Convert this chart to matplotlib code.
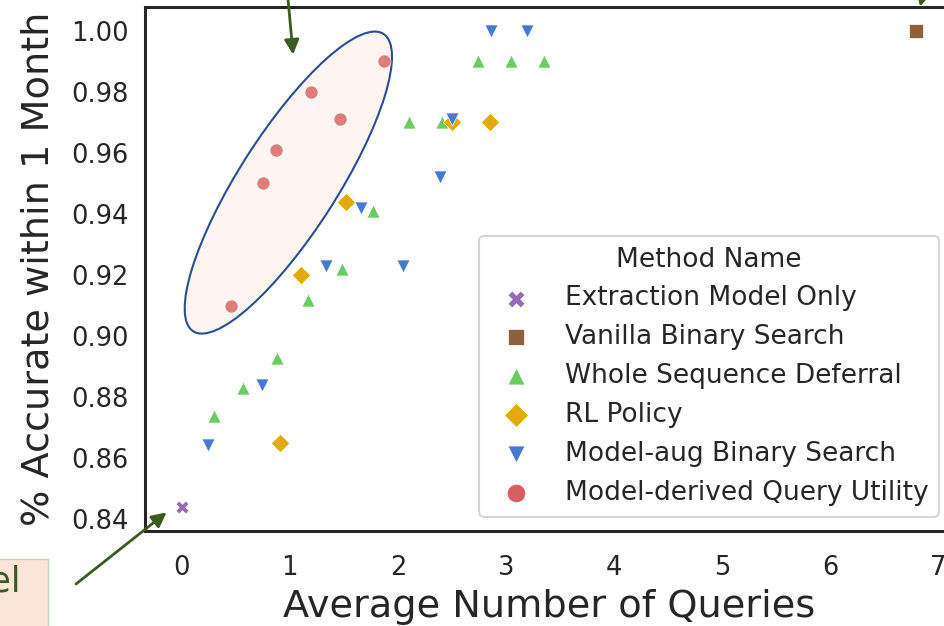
import matplotlib
matplotlib.use('Agg')
import matplotlib.pyplot as plt
from matplotlib.patches import Ellipse, Rectangle
from matplotlib.transforms import ScaledTranslation

plt.rcParams['font.family'] = ['DejaVu Sans']
plt.rcParams['text.color'] = '#262626'
plt.rcParams['axes.labelcolor'] = '#262626'
plt.rcParams['xtick.color'] = '#262626'
plt.rcParams['ytick.color'] = '#262626'

# values
extract_x = [0.0]
extract_y = [0.844]

vanilla_x = [6.79]
vanilla_y = [1.00]

wsd_x = [0.30, 0.57, 0.88, 1.17, 1.48, 1.77, 2.10, 2.41, 2.74, 3.05, 3.35]
wsd_y = [0.874, 0.883, 0.893, 0.912, 0.922, 0.941, 0.970, 0.970, 0.990, 0.990, 0.990]

rl_x = [0.91, 1.10, 1.52, 2.50, 2.85]
rl_y = [0.865, 0.920, 0.944, 0.970, 0.970]

mabs_x = [0.24, 0.74, 1.33, 1.66, 2.05, 2.39, 2.50, 2.86, 3.19]
mabs_y = [0.8645, 0.884, 0.923, 0.942, 0.923, 0.952, 0.971, 1.00, 1.00]

mdqu_x = [0.46, 0.755, 0.875, 1.20, 1.46, 1.875]
mdqu_y = [0.910, 0.950, 0.961, 0.980, 0.971, 0.990]

xticks = [0, 1, 2, 3, 4, 5, 6, 7]
yticks = [0.84, 0.86, 0.88, 0.90, 0.92, 0.94, 0.96, 0.98, 1.00]

W, H = 945, 626
fig = plt.figure(figsize=(W / 100, H / 100), dpi=100)
ax = fig.add_axes([145 / W, 95 / H, (952.5 - 145) / W, 524 / H])

s = 88
ax.scatter(extract_x, extract_y, marker='X', s=s, c='#956cb4', edgecolors='white', linewidths=0.5,
           label='Extraction Model Only', zorder=3)
ax.scatter(vanilla_x, vanilla_y, marker='s', s=s, c='#8c613c', edgecolors='white', linewidths=0.5,
           label='Vanilla Binary Search', zorder=3)
ax.scatter(wsd_x, wsd_y, marker='^', s=s, c='#6acc64', edgecolors='white', linewidths=0.5,
           label='Whole Sequence Deferral', zorder=3)
ax.scatter(rl_x, rl_y, marker='D', s=s, c='#e3aa0f', edgecolors='white', linewidths=0.5,
           label='RL Policy', zorder=3)
ax.scatter(mabs_x, mabs_y, marker='v', s=s, c='#4878d0', edgecolors='white', linewidths=0.5,
           label='Model-aug Binary Search', zorder=3)
ax.scatter(mdqu_x, mdqu_y, marker='o', s=s, c='#d65f5f', alpha=0.8, edgecolors='white', linewidths=0.5,
           label='Model-derived Query Utility', zorder=3)

ax.set_xlim(-0.34, 7.13)
ax.set_ylim(0.8362, 1.0078)
ax.set_xticks(xticks)
ax.set_yticks(yticks)
ax.set_yticklabels([f'{v:.2f}' for v in yticks])
ax.tick_params(length=0, labelsize=18.5)
ax.tick_params(axis='y', pad=12)
ax.tick_params(axis='x', pad=17)
for sp in ax.spines.values():
    sp.set_linewidth(2.2)
    sp.set_color('#262626')

ax.set_xlabel('Average Number of Queries', fontsize=27.5, labelpad=6)
ax.set_ylabel('% Accurate within 1 Month', fontsize=27.5, labelpad=10)

# ellipse around the query-utility points
ell = Ellipse((0, 0), width=3.53, height=0.98, angle=57.4,
              transform=fig.dpi_scale_trans + ScaledTranslation(0.986, 0.9503, ax.transData),
              facecolor='#fcf5f1', edgecolor='#2b4e91', lw=1.5, zorder=1)
ax.add_patch(ell)

# arrows from the (cropped) annotations
green = '#3b5b22'
arrow = dict(arrowstyle='-|>', color=green, lw=2, mutation_scale=22, shrinkA=0, shrinkB=0)
ax.annotate('', xy=(1.03, 0.9922), xytext=(285, 660), textcoords='figure pixels',
            arrowprops=arrow, annotation_clip=False)
ax.annotate('', xy=(-0.14, 0.8423), xytext=(76, 42), textcoords='figure pixels',
            arrowprops=arrow, annotation_clip=False)
ax.annotate('', xy=(6.83, 1.0079), xytext=(935, 680), textcoords='figure pixels',
            arrowprops=arrow, annotation_clip=False)

# cropped label box at the bottom left
fig.patches.append(Rectangle((-300 / W, -40 / H), 348 / W, (67 + 40) / H, transform=fig.transFigure,
                             facecolor='#fbe5d8', edgecolor='#c8d3b5', lw=1, zorder=0))
fig.text(21 / W, 44 / H, 'Extraction Model', ha='right', va='center', fontsize=25, color=green)

leg = ax.legend(title='Method Name', loc='upper left', bbox_to_anchor=(479 / W, (H - 236) / H),
                bbox_transform=fig.transFigure, borderaxespad=0, fontsize=19, title_fontsize=19,
                markerscale=1.3, labelspacing=0.49, handletextpad=0.85, frameon=True, fancybox=True,
                edgecolor='#cccccc', borderpad=0.4)
leg.get_frame().set_linewidth(1.5)
for h in leg.legend_handles:
    h.set_alpha(1)
leg.legend_handles[5].set_color('#d65f5f')

fig.savefig('out.png', dpi=100)
